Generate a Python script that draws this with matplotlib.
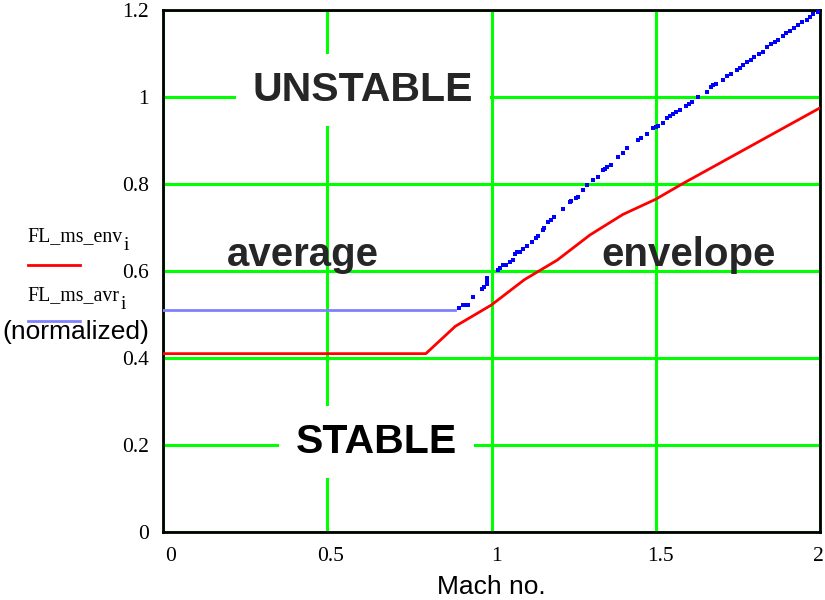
import matplotlib
matplotlib.use("Agg")
import matplotlib.pyplot as plt
import matplotlib.transforms as mtransforms

# ---- data ----
mach_env = [0.0, 0.80, 0.89, 1.00, 1.10, 1.20, 1.30, 1.40, 1.50, 1.58, 2.00]
fl_env = [0.41, 0.41, 0.473, 0.522, 0.58, 0.625, 0.683, 0.73, 0.765, 0.80, 0.975]

mach_avr_flat = [0.0, 0.89]
fl_avr_flat = [0.51, 0.51]

mach_avr = [0.902, 0.912, 0.920, 0.929, 0.945, 0.970, 0.977, 0.985, 0.985, 0.985,
            1.019, 1.026, 1.036, 1.045, 1.055, 1.064, 1.071, 1.079, 1.087, 1.097,
            1.107, 1.122, 1.135, 1.143, 1.156, 1.160, 1.173, 1.182, 1.191, 1.219,
            1.239, 1.242, 1.258, 1.264, 1.278, 1.292, 1.310, 1.325, 1.338, 1.344,
            1.351, 1.364, 1.386, 1.399, 1.414, 1.447, 1.455, 1.472, 1.493, 1.500,
            1.508, 1.521, 1.533, 1.543, 1.553, 1.563, 1.574, 1.592, 1.600, 1.609,
            1.630, 1.655, 1.667, 1.675, 1.683, 1.704, 1.716, 1.729, 1.746, 1.755,
            1.765, 1.777, 1.789, 1.800, 1.814, 1.826, 1.838, 1.850, 1.862, 1.873,
            1.886, 1.898, 1.910, 1.922, 1.934, 1.946, 1.960, 1.970, 1.980, 1.995]
fl_avr = [0.514, 0.522, 0.522, 0.522, 0.540, 0.558, 0.564, 0.570, 0.577, 0.584,
          0.602, 0.608, 0.613, 0.614, 0.620, 0.625, 0.639, 0.643, 0.643, 0.650,
          0.657, 0.667, 0.675, 0.680, 0.694, 0.700, 0.712, 0.718, 0.723, 0.743,
          0.759, 0.762, 0.768, 0.771, 0.786, 0.798, 0.809, 0.815, 0.832, 0.835,
          0.840, 0.844, 0.861, 0.871, 0.882, 0.901, 0.905, 0.914, 0.928, 0.930,
          0.933, 0.940, 0.951, 0.956, 0.961, 0.966, 0.970, 0.979, 0.984, 0.989,
          1.001, 1.011, 1.024, 1.027, 1.029, 1.039, 1.048, 1.054, 1.062, 1.067,
          1.074, 1.080, 1.086, 1.091, 1.099, 1.103, 1.114, 1.122, 1.126, 1.130,
          1.140, 1.147, 1.152, 1.158, 1.165, 1.172, 1.177, 1.184, 1.190, 1.196]

x_ticks = [0, 0.5, 1, 1.5, 2]
x_tick_labels = ["0", "0.5", "1", "1.5", "2"]
y_ticks = [0, 0.2, 0.4, 0.6, 0.8, 1.0, 1.2]
y_tick_labels = ["0", "0.2", "0.4", "0.6", "0.8", "1", "1.2"]

# small horizontal nudges (pixels) of the x tick labels, as in the original
x_label_nudge = [8, 3, 5, 5, -2]

W, H = 825, 600
fig = plt.figure(figsize=(W / 100, H / 100), dpi=100)
ax = fig.add_axes([163 / W, 1 - 532 / H, (820 - 163) / W, (532 - 10) / H])

ax.set_xlim(0, 2)
ax.set_ylim(0, 1.2)
ax.set_xticks(x_ticks)
ax.set_xticklabels(x_tick_labels, family="Liberation Serif", fontsize=15.5)
ax.set_yticks(y_ticks)
ax.set_yticklabels(y_tick_labels, family="Liberation Serif", fontsize=15.5)
ax.tick_params(axis="y", length=0, pad=10)
ax.tick_params(axis="x", length=0, pad=11)
for lbl, dx in zip(ax.get_xticklabels(), x_label_nudge):
    off = mtransforms.ScaledTranslation(dx / 100, 0, fig.dpi_scale_trans)
    lbl.set_transform(lbl.get_transform() + off)
ax.grid(True, color="#00ff00", linewidth=2.2, zorder=0)
ax.set_axisbelow(True)
for s in ax.spines.values():
    s.set_color("black")
    s.set_linewidth(2)

# region labels
lab_kw = dict(family="Liberation Sans", fontweight="bold", ha="center", zorder=3)
ax.text(0.609, 1.016, "UNSTABLE", fontsize=29.5, color="#262626", va="center",
        bbox=dict(facecolor="white", edgecolor="none", pad=12), **lab_kw)
ax.text(0.649, 0.207, "STABLE", fontsize=29.5, color="black", va="center",
        bbox=dict(facecolor="white", edgecolor="none", pad=12), **lab_kw)
ax.text(0.4247, 0.611, "average", fontsize=29, color="#262626", va="baseline",
        **lab_kw)
ax.text(1.599, 0.611, "envelope", fontsize=29, color="#262626", va="baseline",
        **lab_kw)

# data
ax.plot(mach_env, fl_env, color="red", linewidth=2.0, zorder=5)
ax.plot(mach_avr_flat, fl_avr_flat, color="#8080ff", linewidth=2.0, zorder=5)
ax.plot(mach_avr, fl_avr, linestyle="none", marker="s", markersize=2.6,
        color="#0000ff", markeredgewidth=0, zorder=6)

# left-side legend
t_env = fig.text(27 / W, 1 - 241 / H, "FL_ms_env", family="Liberation Serif",
                 fontsize=14.3, ha="left", va="baseline")
t_avr = fig.text(27 / W, 1 - 300 / H, "FL_ms_avr", family="Liberation Serif",
                 fontsize=14.3, ha="left", va="baseline")
fig.canvas.draw()
renderer = fig.canvas.get_renderer()
for t, base in ((t_env, 241), (t_avr, 300)):
    x1 = t.get_window_extent(renderer).x1
    fig.text((x1 + 1.5) / W, 1 - (base + 9) / H, "i", family="Liberation Serif",
             fontsize=14, ha="left", va="baseline")
fig.add_artist(plt.Line2D([28 / W, 80 / W], [1 - 265 / H, 1 - 265 / H],
                          color="red", linewidth=2.0))
fig.add_artist(plt.Line2D([28 / W, 80 / W], [1 - 321 / H, 1 - 321 / H],
                          color="#8080ff", linewidth=2.0))
fig.text(76 / W, 1 - 332 / H, "(normalized)", family="Liberation Sans",
         fontsize=19, ha="center", va="center")

fig.text(491 / W, 1 - 587 / H, "Mach no.", family="Liberation Sans",
         fontsize=19, ha="center", va="center")

fig.savefig("out.png", dpi=100)
